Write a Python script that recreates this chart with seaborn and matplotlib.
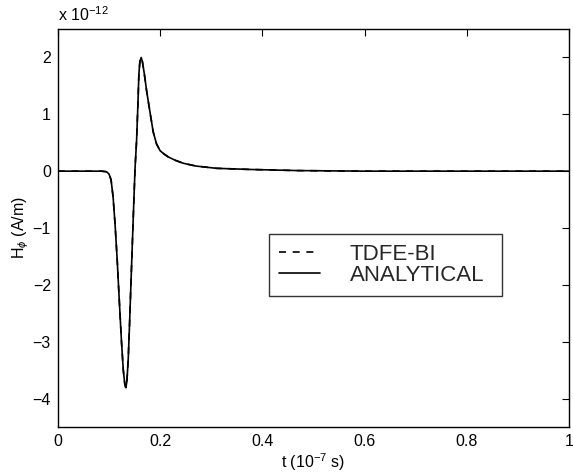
import numpy as np
import pandas as pd
import seaborn as sns
import matplotlib
matplotlib.use("Agg")
import matplotlib.pyplot as plt

# time in units of 1e-7 s
t_vals = [0.0, 0.05, 0.085, 0.095, 0.100, 0.104, 0.108, 0.112, 0.116, 0.120,
          0.1246, 0.128, 0.131, 0.133, 0.135, 0.1376, 0.140, 0.143, 0.146,
          0.1487, 0.151, 0.154, 0.1565, 0.1585, 0.1605, 0.163, 0.1655, 0.169,
          0.1735, 0.180, 0.1865, 0.193, 0.200, 0.208, 0.216, 0.230, 0.245,
          0.270, 0.310, 0.376, 0.470, 0.600, 0.800, 1.0]
# H_phi in units of 1e-12 A/m
analytical = [0.0, 0.0, 0.0, -0.01, -0.05, -0.15, -0.45, -0.95, -1.55, -2.25,
              -3.02, -3.50, -3.75, -3.81, -3.70, -3.32, -2.75, -1.97, -1.20,
              -0.51, 0.05, 0.54, 1.15, 1.71, 1.93, 2.00, 1.92, 1.72,
              1.42, 1.05, 0.69, 0.48, 0.36, 0.30, 0.25, 0.19, 0.14,
              0.09, 0.05, 0.03, 0.01, 0.0, 0.0, 0.0]
tdfe_bi = list(analytical)

series_names = ["TDFE-BI", "ANALYTICAL"]
x_ticks = [0, 0.2, 0.4, 0.6, 0.8, 1.0]
x_tick_labels = ["0", "0.2", "0.4", "0.6", "0.8", "1"]
y_ticks = [-4, -3, -2, -1, 0, 1, 2]
y_tick_labels = ["\u22124", "\u22123", "\u22122", "\u22121", "0", "1", "2"]

df = pd.DataFrame({
    "t": t_vals * 2,
    "H": tdfe_bi + analytical,
    "series": [series_names[0]] * len(t_vals) + [series_names[1]] * len(t_vals),
})

sns.set_theme(style="white")
plt.rcParams['font.family'] = ['Liberation Sans', 'DejaVu Sans']
plt.rcParams['mathtext.fontset'] = 'custom'
plt.rcParams['mathtext.rm'] = 'Liberation Sans'
plt.rcParams['mathtext.it'] = 'Liberation Sans:italic'

fig = plt.figure(figsize=(5.73, 4.76), dpi=100)
ax = fig.add_axes([0.101, 0.103, 0.892, 0.836])

sns.lineplot(data=df, x="t", y="H", hue="series", style="series",
             palette={"TDFE-BI": "black", "ANALYTICAL": "black"},
             dashes={"TDFE-BI": (4.2, 4.0), "ANALYTICAL": ""},
             linewidth=1.2, ax=ax, sort=False, estimator=None)

ax.set_xlim(0, 1)
ax.set_ylim(-4.5, 2.5)
ax.set_xticks(x_ticks)
ax.set_xticklabels(x_tick_labels)
ax.set_yticks(y_ticks)
ax.set_yticklabels(y_tick_labels)
ax.tick_params(direction='in', top=True, right=True, length=5, width=0.8,
               labelsize=11.5, colors='black', pad=5)
for s in ax.spines.values():
    s.set_color('black')
    s.set_linewidth(1.0)

ax.set_xlabel(r't (10$^{-7}$ s)', fontsize=11.5, color='black', labelpad=2)
ax.set_ylabel(r'H$_{\phi}$ (A/m)', fontsize=11.5, color='black', labelpad=1)
ax.text(0.0, 1.012, r'x 10$^{-12}$', transform=ax.transAxes, fontsize=11.5,
        ha='left', va='bottom', color='black')

leg = ax.legend(loc='upper left', bbox_to_anchor=(0.413, 0.0, 0.456, 0.485),
                mode='expand', fontsize=16,
                frameon=True, fancybox=False, edgecolor='black',
                handlelength=1.83, borderpad=0.45, labelspacing=0.0,
                handletextpad=1.35, borderaxespad=0)
leg.get_frame().set_linewidth(1.0)
leg.set_title(None)

fig.savefig("out.png", dpi=100)
